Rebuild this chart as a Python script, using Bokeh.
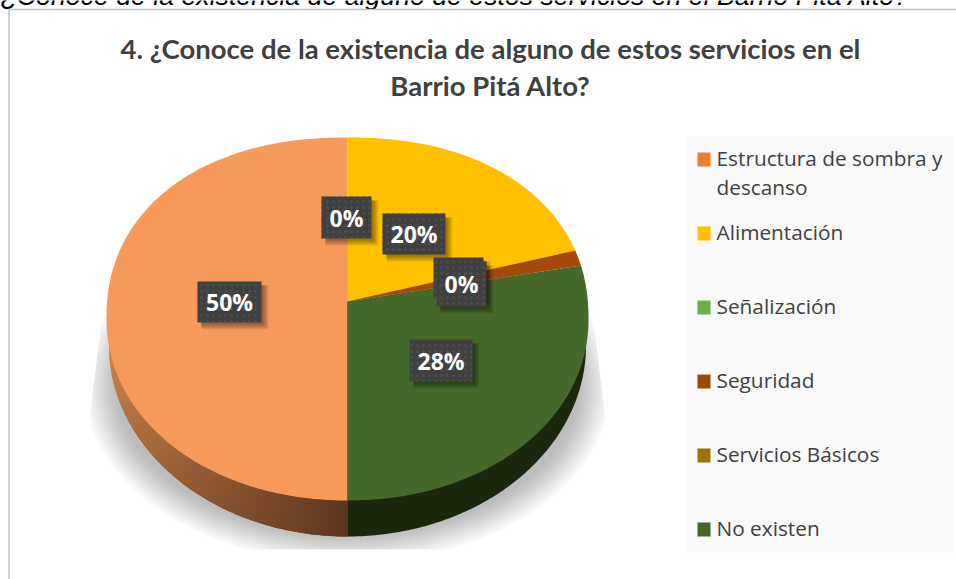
import numpy as np
from bokeh.plotting import figure
from bokeh.core.properties import value
from bokeh.embed import file_html
from bokeh.resources import INLINE

caption = "¿Conoce de la existencia de alguno de estos servicios en el Barrio Pitá Alto?"
title_lines = ["4. ¿Conoce de la existencia de alguno de estos servicios en el", "Barrio Pitá Alto?"]
categories = ["Estructura de sombra y", "Alimentación", "Señalización", "Seguridad", "Servicios Básicos", "No existen"]
values_pct = [50.0, 20.4, 0.0, 1.4, 0.0, 28.2]
face_colors = ["#F69A5C", "#FFC000", "#70AD47", "#A5490B", "#997300", "#46692B"]
legend_colors = ["#ED7D31", "#FFC000", "#70AD47", "#9E480E", "#997300", "#43682B"]
data_labels = ["50%", "20%", "0%", "0%", "0%", "28%"]
label_boxes = [(197, 261, 281, 322), (382, 445, 213, 254), (321, 371, 196, 238),
               (433, 483, 257, 298), (436, 486, 261, 306), (409, 472, 339, 381)]
legend_y = [159, 233, 307, 381, 455, 529]

CX, APEX_Y, W, A, C = 347, 301, 239.9, 179.8, 0.0964
MID_Y, RX, RY = 318.5, 241.0, 181.5


def project(theta):
    u, v = np.sin(theta), np.cos(theta)
    d = 1 + C * v
    x = W * u / d
    y = APEX_Y - A * v / d
    # the picture's outline is a little fuller than an ellipse
    px, py = np.abs(x) / RX, np.abs(y - MID_Y) / RY
    n = np.where(y < MID_Y, 2.2, 2.05)
    s = 1 / np.maximum((px ** n + py ** n) ** (1 / n), 1e-6) * np.sqrt(px ** 2 + py ** 2)
    return CX + x * s, MID_Y + (y - MID_Y) * s


def outer(theta):
    return CX + 238.5 * np.sin(theta), 345 - 191 * np.cos(theta)


def lerp(c0, c1, t):
    return "#%02x%02x%02x" % tuple(int(round(a + (b - a) * t)) for a, b in zip(c0, c1))


p = figure(width=956, height=579, x_range=(0, 956), y_range=(579, 0), output_backend="svg",
           toolbar_location=None, min_border=0, margin=(0, 0, 0, 0),
           x_axis_type=None, y_axis_type=None, background_fill_color="white", border_fill_color="white")
p.grid.visible = False
p.outline_line_color = None

# page caption, cut by the top edge
p.text([0], [-4.5], [caption], text_font=value("Liberation Sans"), text_font_style="italic",
       text_font_size="26.7px", text_color="#000000", text_baseline="middle")

# chart border
p.line([956, 8.5, 8.5], [9, 9, 579], line_color="#c4c4c4", line_width=1.6)

# title
for line, y in zip(title_lines, [48, 85]):
    p.text([490], [y], [line], text_font=value("Lato"), text_font_style="bold", text_font_size="27.5px",
           text_color="#404040", text_align="center", text_baseline="middle")

# ground shadow
ts = np.linspace(0, 2 * np.pi, 240)
n_layers = 14
for i in range(n_layers):
    f = i / (n_layers - 1)
    rx, ry = 264 - 32 * f, 178 - 28 * f
    ys = 385 + ry * np.cos(ts)
    half = rx * np.sin(ts)
    bound = np.clip(241 + (ys - 280) * 16 / 130, 241, 258)
    xs = CX + np.clip(half, -bound, bound)
    p.patch(xs, np.minimum(ys, 549), fill_color="black", fill_alpha=0.018, line_color=None)

# side wall
edges = np.linspace(np.pi, 1.5 * np.pi, 91)
for i in range(89, -1, -1):
    x1, y1 = outer(edges[i])
    x2, y2 = outer(edges[i + 1])
    col = lerp((0x5E, 0x37, 0x20), (204, 133, 75), (i + 0.5) / 90)
    x0, y0 = outer(edges[max(i - 1, 0)])
    p.patch([CX, x0, x1, x2], [APEX_Y, y0, y1, y2], fill_color=col, line_color=None)
th = np.linspace(0.45 * np.pi, np.pi, 120)
sx, sy = outer(th)
p.patch(np.r_[CX, sx], np.r_[APEX_Y, sy], fill_color="#1B280E", line_color=None)

# face: clockwise from the bottom of the pie
a0 = np.pi
for val, col in zip(values_pct, face_colors):
    a1 = a0 + val / 100 * 2 * np.pi
    if val > 0:
        t = np.linspace(a0, a1, max(3, int(val * 4)))
        x, y = project(t)
        p.patch(np.r_[CX, x], np.r_[APEX_Y, y], fill_color=col, line_color=None)
    a0 = a1

# data labels
for s, (x0, x1, y0, y1) in zip(data_labels, label_boxes):
    for k in range(6):
        g = 7 - k
        p.quad(left=x0 + 4, right=x1 + g, top=y0 + 4, bottom=y1 + g, fill_color="black",
               fill_alpha=0.07, line_color=None)
    p.quad(left=x0, right=x1, top=y0, bottom=y1, fill_color="#404040", line_color=None,
           hatch_pattern="dot", hatch_color="#4c4c4c", hatch_scale=6, hatch_weight=0.7)
    p.text([(x0 + x1) / 2], [(y0 + y1) / 2], [s], text_font=value("Open Sans"), text_font_style="bold",
           text_font_size="23px", text_color="white", text_align="center", text_baseline="middle")

# legend
p.quad(left=685, right=953, top=136, bottom=552, fill_color="#F9F9F9", line_color=None)
for y, col, name in zip(legend_y, legend_colors, categories):
    p.quad(left=697, right=710, top=y - 7, bottom=y + 7, fill_color=col, line_color=None)
    p.text([716], [y - 1.5], [name], text_font=value("Open Sans"), text_font_size="20.8px", text_color="#404040",
           text_baseline="middle")
p.text([716], [186.5], ["descanso"], text_font=value("Open Sans"), text_font_size="20.8px", text_color="#404040",
       text_baseline="middle")

open("out.html", "w").write(file_html(p, INLINE))
